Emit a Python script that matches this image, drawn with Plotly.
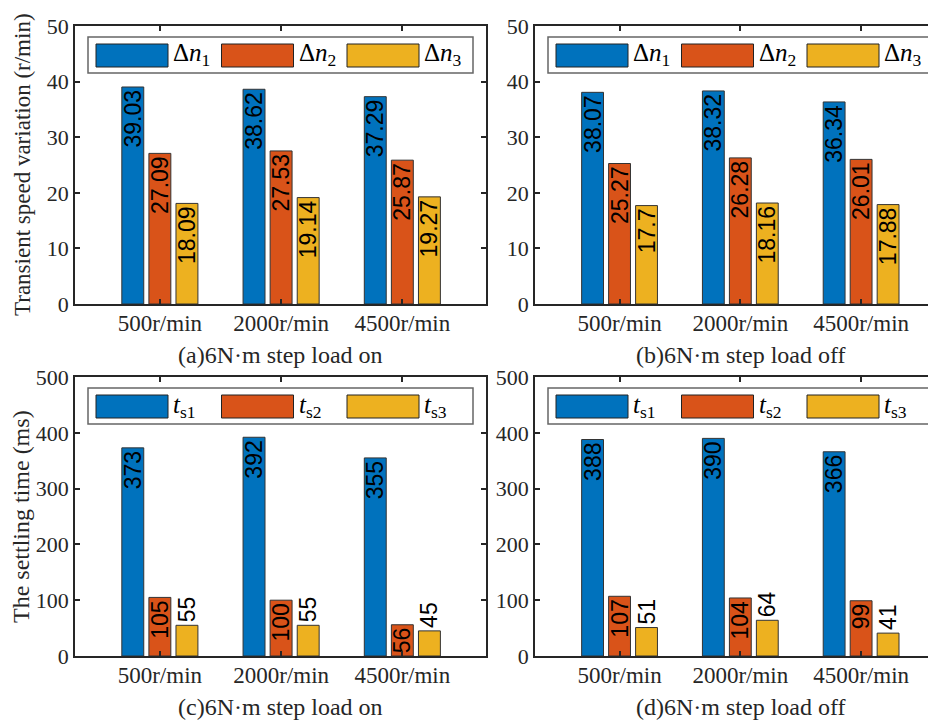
import plotly.graph_objects as go

OFF = 8  # page body margin
W, H = 936 - OFF, 721 - OFF

categories = ["500r/min", "2000r/min", "4500r/min"]

# (a) step load on - transient speed variation
a_dn1 = [39.03, 38.62, 37.29]
a_dn2 = [27.09, 27.53, 25.87]
a_dn3 = [18.09, 19.14, 19.27]
# (b) step load off
b_dn1 = [38.07, 38.32, 36.34]
b_dn2 = [25.27, 26.28, 26.01]
b_dn3 = [17.7, 18.16, 17.88]
# (c) step load on - settling time
c_ts1 = [373, 392, 355]
c_ts2 = [105, 100, 56]
c_ts3 = [55, 55, 45]
# (d) step load off
d_ts1 = [388, 390, 366]
d_ts2 = [107, 104, 99]
d_ts3 = [51, 64, 41]

speed_names = ["Δ<i>n</i><sub>1</sub>", "Δ<i>n</i><sub>2</sub>", "Δ<i>n</i><sub>3</sub>"]
time_names = ["<i>t</i><sub>s1</sub>", "<i>t</i><sub>s2</sub>", "<i>t</i><sub>s3</sub>"]
captions = ["(a)6N·m step load on", "(b)6N·m step load off",
            "(c)6N·m step load on", "(d)6N·m step load off"]

colors = ["#0072BD", "#D95319", "#EDB120"]
AX = "#262626"
SERIF = "Liberation Serif"
SANS = "Liberation Sans"

def px(x):
    return (x - OFF) / W

def py(y):
    return 1 - (y - OFF) / H

# panel pixel boxes in page pixels: (left, top, right, bottom)
panels = [
    (75, 26, 486, 304),
    (535, 26, 936, 304),
    (75, 377, 486, 656),
    (535, 377, 936, 656),
]
xranges = [[-0.70, 2.69], [-0.70, 2.62], [-0.70, 2.69], [-0.70, 2.62]]
yranges = [[0, 50], [0, 50], [0, 500], [0, 500]]

series = [
    [a_dn1, a_dn2, a_dn3],
    [b_dn1, b_dn2, b_dn3],
    [c_ts1, c_ts2, c_ts3],
    [d_ts1, d_ts2, d_ts3],
]
positions = [
    [["inside"] * 3] * 3,
    [["inside"] * 3] * 3,
    [["inside"] * 3, ["inside"] * 3, ["outside"] * 3],
    [["inside"] * 3, ["inside"] * 3, ["outside"] * 3],
]

fig = go.Figure()
layout = dict(
    width=W, height=H,
    margin=dict(l=0, r=0, t=0, b=0, autoexpand=False),
    paper_bgcolor="white", plot_bgcolor="white",
    showlegend=False,
    barmode="group", bargap=0.33, bargroupgap=0.19,
    font=dict(family=SERIF, color=AX),
)
shapes = []
annotations = []

for i, (l, t, r, b) in enumerate(panels):
    k = "" if i == 0 else str(i + 1)
    xa, ya = "x" + k, "y" + k
    for j in range(3):
        fig.add_trace(go.Bar(
            x=categories, y=series[i][j],
            xaxis=xa, yaxis=ya,
            name=(speed_names if i < 2 else time_names)[j],
            marker=dict(color=colors[j], line=dict(color="#333333", width=1)),
            text=[str(v) for v in series[i][j]],
            textposition=positions[i][j],
            textangle=-90,
            insidetextanchor="end",
            constraintext="none",
            textfont=dict(family=SANS, size=23, color="black"),
            cliponaxis=False,
        ))
    right_box = (i % 2 == 0)
    layout["xaxis" + k] = dict(
        domain=[px(l), px(r)], anchor=ya,
        range=xranges[i], type="category", automargin=False,
        showline=True, linecolor=AX, linewidth=1.5,
        mirror="ticks", ticks="inside", ticklen=5, tickwidth=1.5, tickcolor=AX,
        tickfont=dict(family=SERIF, size=23, color=AX),
        ticklabelstandoff=-2,
        showgrid=False, zeroline=False, fixedrange=True,
    )
    layout["yaxis" + k] = dict(
        domain=[py(b), py(t)], anchor=xa, automargin=False,
        range=yranges[i], dtick=yranges[i][1] / 5,
        showline=True, linecolor=AX, linewidth=1.5,
        mirror="ticks" if right_box else False,
        ticks="inside", ticklen=5, tickwidth=1.5, tickcolor=AX,
        tickfont=dict(family=SERIF, size=22, color=AX),
        showgrid=False, zeroline=False, fixedrange=True,
    )
    # caption
    annotations.append(dict(
        text=captions[i], xref="paper", yref="paper",
        x=px((l + l + 411) / 2), y=py(b + 51), xanchor="center", yanchor="middle",
        showarrow=False, font=dict(family=SERIF, size=24, color=AX),
    ))
    # legend box
    shapes.append(dict(type="rect", xref="paper", yref="paper",
                       x0=px(l + 13), x1=px(l + 398), y0=py(t + 11), y1=py(t + 47),
                       line=dict(color="#666666", width=1.5), fillcolor="white"))
    names = speed_names if i < 2 else time_names
    for j in range(3):
        sx = l + 21 + j * 125.5
        shapes.append(dict(type="rect", xref="paper", yref="paper",
                           x0=px(sx), x1=px(sx + 72), y0=py(t + 18), y1=py(t + 41),
                           line=dict(color="#222222", width=1), fillcolor=colors[j]))
        annotations.append(dict(
            text=names[j], xref="paper", yref="paper",
            x=px(sx + 75), y=py(t + 29), xanchor="left", yanchor="middle",
            showarrow=False, font=dict(family=SERIF, size=25, color="black"),
        ))

annotations.append(dict(
    text="Transient speed variation (r/min)", xref="paper", yref="paper",
    x=px(22), y=py(165), textangle=-90, xanchor="center", yanchor="middle",
    showarrow=False, font=dict(family=SERIF, size=23, color=AX)))
annotations.append(dict(
    text="The settling time (ms)", xref="paper", yref="paper",
    x=px(21), y=py(517), textangle=-90, xanchor="center", yanchor="middle",
    showarrow=False, font=dict(family=SERIF, size=24, color=AX)))

layout["shapes"] = shapes
layout["annotations"] = annotations
fig.update_layout(**layout)
fig.write_html("out.html")
